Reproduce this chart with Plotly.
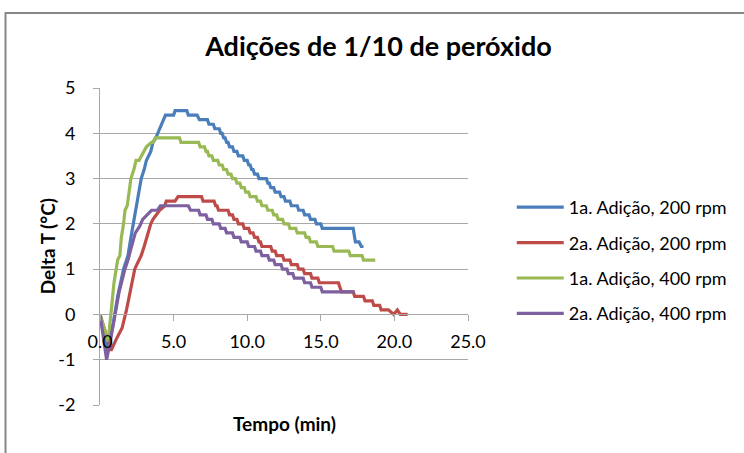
import plotly.graph_objects as go

# Temperature rise (delta T, °C) versus time (min) for each peroxide addition
add1_200rpm = [(0.0, 0.0), (0.5, -0.8), (0.9, -0.2), (1.2, 0.4), (1.6, 1.0), (1.9, 1.3), (2.1, 1.7),
               (2.4, 2.3), (2.6, 2.6), (2.8, 3.0), (3.0, 3.2), (3.15, 3.4), (3.3, 3.5), (3.45, 3.6),
               (3.6, 3.8), (3.8, 3.9), (4.05, 4.1), (4.2, 4.2), (4.45, 4.4), (5.0, 4.4), (5.1, 4.5),
               (5.9, 4.5), (6.0, 4.4), (6.6, 4.4), (6.75, 4.3), (7.3, 4.3), (7.4, 4.2), (7.7, 4.2),
               (7.8, 4.1), (8.1, 4.1), (8.2, 4.0), (8.3, 4.0), (8.4, 3.9), (8.5, 3.9), (8.6, 3.8),
               (8.7, 3.8), (8.8, 3.7), (9.0, 3.7), (9.1, 3.6), (9.3, 3.6), (9.4, 3.5), (9.7, 3.5),
               (9.8, 3.4), (10.0, 3.4), (10.1, 3.3), (10.2, 3.3), (10.3, 3.2), (10.4, 3.2), (10.5, 3.1),
               (10.7, 3.1), (10.8, 3.0), (11.3, 3.0), (11.4, 2.9), (11.5, 2.9), (11.6, 2.8), (11.8, 2.8),
               (11.9, 2.7), (12.2, 2.7), (12.3, 2.6), (12.5, 2.6), (12.6, 2.5), (12.9, 2.5), (13.0, 2.4),
               (13.4, 2.4), (13.5, 2.3), (13.8, 2.3), (13.9, 2.2), (14.2, 2.2), (14.3, 2.1), (14.6, 2.1),
               (14.7, 2.0), (15.0, 2.0), (15.1, 1.9), (17.2, 1.9), (17.35, 1.6), (17.6, 1.6),
               (17.75, 1.5), (17.9, 1.5)]

add2_200rpm = [(0.0, 0.0), (0.75, -0.8), (1.1, -0.55), (1.5, -0.3), (1.8, 0.1), (2.05, 0.5), (2.2, 0.8),
               (2.36, 1.0), (2.5, 1.1), (2.8, 1.3), (3.0, 1.5), (3.27, 1.8), (3.45, 2.0), (3.6, 2.1),
               (3.85, 2.2), (4.05, 2.3), (4.4, 2.4), (4.5, 2.5), (5.1, 2.5), (5.3, 2.6), (6.9, 2.6),
               (7.0, 2.5), (7.75, 2.5), (7.85, 2.4), (7.95, 2.4), (8.05, 2.3), (8.7, 2.3), (8.8, 2.2),
               (9.0, 2.2), (9.1, 2.1), (9.3, 2.1), (9.4, 2.0), (9.7, 2.0), (9.8, 1.9), (10.1, 1.9),
               (10.2, 1.8), (10.4, 1.8), (10.5, 1.7), (10.7, 1.7), (10.8, 1.6), (10.9, 1.6), (11.0, 1.5),
               (11.6, 1.5), (11.7, 1.4), (11.9, 1.4), (12.0, 1.3), (12.4, 1.3), (12.5, 1.2), (12.9, 1.2),
               (13.0, 1.1), (13.4, 1.1), (13.5, 1.0), (13.8, 1.0), (13.9, 0.9), (14.3, 0.9), (14.4, 0.8),
               (14.8, 0.8), (14.9, 0.7), (16.2, 0.7), (16.3, 0.6), (16.4, 0.5), (17.2, 0.5), (17.3, 0.4),
               (17.9, 0.4), (18.0, 0.3), (18.5, 0.3), (18.6, 0.2), (19.0, 0.2), (19.1, 0.1), (19.6, 0.1),
               (19.95, 0.0), (20.2, 0.1), (20.4, 0.0), (20.9, 0.0)]

add1_400rpm = [(0.0, 0.0), (0.55, -0.6), (0.8, 0.2), (0.95, 0.7), (1.1, 1.0), (1.2, 1.2), (1.35, 1.3),
               (1.45, 1.7), (1.6, 2.0), (1.7, 2.3), (1.85, 2.4), (2.0, 2.8), (2.1, 3.0), (2.3, 3.2),
               (2.45, 3.4), (2.65, 3.4), (2.8, 3.5), (3.0, 3.6), (3.15, 3.7), (3.5, 3.8), (3.6, 3.8),
               (3.75, 3.9), (5.4, 3.9), (5.5, 3.8), (6.7, 3.8), (6.8, 3.7), (7.1, 3.7), (7.2, 3.6),
               (7.3, 3.6), (7.4, 3.5), (7.6, 3.5), (7.7, 3.4), (8.0, 3.4), (8.1, 3.3), (8.3, 3.3),
               (8.4, 3.2), (8.6, 3.2), (8.7, 3.1), (8.9, 3.1), (9.0, 3.0), (9.2, 3.0), (9.3, 2.9),
               (9.5, 2.9), (9.6, 2.8), (9.8, 2.8), (9.9, 2.7), (10.1, 2.7), (10.2, 2.6), (10.6, 2.6),
               (10.7, 2.5), (10.9, 2.5), (11.0, 2.4), (11.3, 2.4), (11.4, 2.3), (11.7, 2.3), (11.8, 2.2),
               (12.0, 2.2), (12.1, 2.1), (12.4, 2.1), (12.5, 2.0), (12.8, 2.0), (12.9, 1.9), (13.3, 1.9),
               (13.4, 1.8), (13.9, 1.8), (14.0, 1.7), (14.2, 1.7), (14.3, 1.6), (14.7, 1.6), (14.8, 1.5),
               (15.8, 1.5), (15.9, 1.4), (16.9, 1.4), (17.0, 1.3), (17.8, 1.3), (17.9, 1.2), (18.7, 1.2)]

add2_400rpm = [(0.0, 0.0), (0.45, -1.0), (0.75, -0.5), (1.0, 0.0), (1.3, 0.5), (1.69, 1.0), (1.9, 1.2),
               (2.14, 1.5), (2.4, 1.8), (2.7, 1.95), (2.9, 2.1), (3.2, 2.2), (3.5, 2.3), (3.9, 2.3),
               (4.1, 2.4), (6.0, 2.4), (6.15, 2.3), (6.7, 2.3), (6.8, 2.2), (7.2, 2.2), (7.3, 2.1),
               (7.6, 2.1), (7.7, 2.0), (8.1, 2.0), (8.2, 1.9), (8.5, 1.9), (8.6, 1.8), (9.0, 1.8),
               (9.1, 1.7), (9.5, 1.7), (9.6, 1.6), (10.0, 1.6), (10.1, 1.5), (10.5, 1.5), (10.6, 1.4),
               (10.9, 1.4), (11.0, 1.3), (11.4, 1.3), (11.5, 1.2), (11.8, 1.2), (11.9, 1.1), (12.3, 1.1),
               (12.4, 1.0), (12.7, 1.0), (12.8, 0.9), (13.1, 0.9), (13.2, 0.8), (13.8, 0.8), (13.9, 0.7),
               (14.3, 0.7), (14.4, 0.6), (15.0, 0.6), (15.1, 0.5), (17.3, 0.5)]

series_names = ["1a. Adição, 200 rpm", "2a. Adição, 200 rpm", "1a. Adição, 400 rpm", "2a. Adição, 400 rpm"]
series_data = [add1_200rpm, add2_200rpm, add1_400rpm, add2_400rpm]
series_colors = ["#4A7EBB", "#BE4B48", "#98B954", "#7D60A0"]

x_ticks = [0, 5, 10, 15, 20, 25]
x_tick_labels = ["0.0", "5.0", "10.0", "15.0", "20.0", "25.0"]
y_ticks = [-2, -1, 0, 1, 2, 3, 4, 5]
y_tick_labels = ["-2", "-1", "0", "1", "2", "3", "4", "5"]

FONT = "Lato, 'Open Sans', sans-serif"
GRID = "#A8A8A8"

fig = go.Figure()
for i, (name, pts, col) in enumerate(zip(series_names, series_data, series_colors)):
    fig.add_trace(go.Scatter(
        x=[p[0] for p in pts], y=[p[1] for p in pts],
        mode="lines", name=name, legendgroup=f"g{i}",
        line=dict(color=col, width=3.2),
    ))

# plot area in pixels: x 100..470, y 88..405 on a 744x453 page
L, R, T, B = 100, 274, 88, 48
W, H = 744 - L - R, 453 - T - B


def px_x(px):
    return (px - L) / W


def px_y(py):
    return (453 - B - py) / H


fig.update_layout(
    width=744, height=453,
    margin=dict(l=L, r=R, t=T, b=B),
    paper_bgcolor="white", plot_bgcolor="white",
    font=dict(family=FONT, color="#000000", size=18),
    title=dict(text="<b>Adições de 1/10 de peróxido</b>", font=dict(size=27, family=FONT),
               x=px_x(380), xref="paper", xanchor="center",
               y=1 - 47 / 453, yref="container", yanchor="middle"),
    showlegend=True,
    legend=dict(x=px_x(514), y=px_y(189), xanchor="left", yanchor="top",
                font=dict(size=18, family=FONT), tracegroupgap=9, itemwidth=47,
                bgcolor="rgba(0,0,0,0)"),
    xaxis=dict(range=[0, 25], tickvals=x_ticks, ticktext=x_tick_labels,
               showgrid=False, zeroline=False,
               showline=True, linecolor=GRID, linewidth=1,
               ticks="outside", ticklen=6, tickcolor=GRID,
               anchor="free", position=px_y(314), ticklabelstandoff=5,
               tickfont=dict(size=18)),
    yaxis=dict(range=[-2, 5], tickvals=y_ticks, ticktext=y_tick_labels,
               showgrid=True, gridcolor=GRID, gridwidth=1, zeroline=False,
               showline=True, linecolor=GRID, linewidth=1,
               ticks="outside", ticklen=6, tickcolor=GRID,
               ticklabelstandoff=14, tickfont=dict(size=18)),
    annotations=[
        dict(text="<b>Delta T (°C)</b>", x=px_x(47), y=px_y(246), xref="paper", yref="paper",
             textangle=-90, showarrow=False, font=dict(size=19, family=FONT),
             xanchor="center", yanchor="middle"),
        dict(text="<b>Tempo (min)</b>", x=px_x(286), y=px_y(423), xref="paper", yref="paper",
             showarrow=False, font=dict(size=19, family=FONT),
             xanchor="center", yanchor="middle"),
    ],
    shapes=[
        dict(type="rect", xref="paper", yref="paper",
             x0=px_x(5), x1=px_x(760), y0=px_y(470), y1=px_y(13),
             line=dict(color="#878787", width=2), fillcolor="rgba(0,0,0,0)", layer="below"),
    ],
)

fig.write_html("out.html")
